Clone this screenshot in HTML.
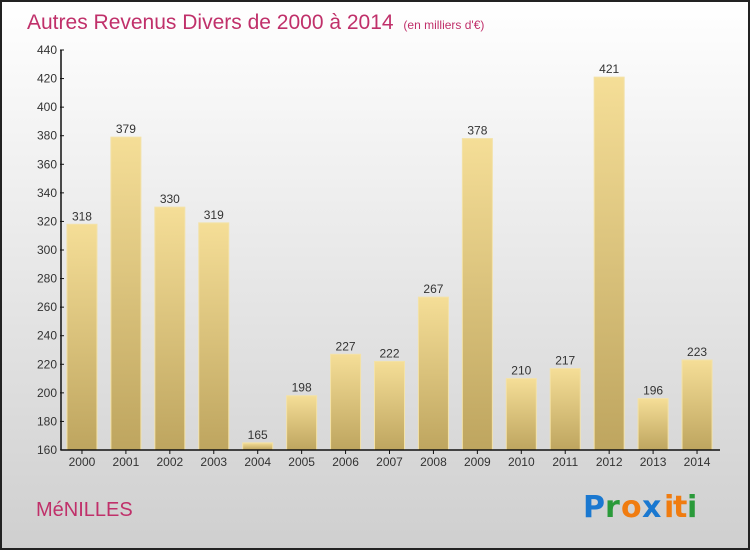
<!DOCTYPE html>
<html><head><meta charset="utf-8"><style>
body{margin:0;width:750px;height:550px;overflow:hidden;font-family:"Liberation Sans",sans-serif}
</style></head><body>
<svg id="c" width="750" height="550" xmlns="http://www.w3.org/2000/svg">
<defs>
<linearGradient id="bg" x1="0" y1="0" x2="0" y2="1"><stop offset="0" stop-color="#ffffff"/><stop offset="1" stop-color="#cfcfcf"/></linearGradient>
<linearGradient id="bar" x1="0" y1="0" x2="0" y2="1"><stop offset="0" stop-color="#f5de97"/><stop offset="1" stop-color="#bea55f"/></linearGradient>
</defs>
<rect x="1" y="1" width="748" height="548" fill="url(#bg)" stroke="#222" stroke-width="2"/>
<text x="27" y="29" font-size="21" fill="#c0306a">Autres Revenus Divers de 2000 à 2014 <tspan font-size="12" dx="4">(en milliers d'€)</tspan></text>
<text x="36" y="516" font-size="20" fill="#c0306a">MéNILLES</text>
<g font-size="30" font-family="'DejaVu Sans',sans-serif" font-weight="bold">
<text x="583" y="517" fill="#1a78d0">P</text><text x="605" y="517" fill="#2a9a3a">r</text><text x="621" y="517" fill="#f07c10">o</text><text x="642" y="517" fill="#1a78d0">x</text><text x="664" y="517" fill="#f07c10">i</text><text x="673" y="517" fill="#f07c10">t</text><text x="687" y="517" fill="#2a9a3a">i</text>
</g>
<g id="plot"></g>
</svg>
<script>
const categories=["2000","2001","2002","2003","2004","2005","2006","2007","2008","2009","2010","2011","2012","2013","2014"];
const values=[318,379,330,319,165,198,227,222,267,378,210,217,421,196,223];
const yTicks=[160,180,200,220,240,260,280,300,320,340,360,380,400,420,440];
const NS="http://www.w3.org/2000/svg";
const g=document.getElementById('plot');
const x0=61,x1=720,yTop=50,yBot=450,ymin=160,ymax=440;
const y=v=>yBot-(v-ymin)/(ymax-ymin)*(yBot-yTop);
const step=(x1-x0)/categories.length;
const xc=i=>x0+step*(i+0.5)-1;
function el(t,a,p){const e=document.createElementNS(NS,t);for(const k in a)e.setAttribute(k,a[k]);(p||g).appendChild(e);return e;}
categories.forEach((c,i)=>{
 const v=values[i];
 const r=el('rect',{x:xc(i)-15,y:y(v),width:30,height:yBot-y(v),fill:'url(#bar)',stroke:'#f3e2a8','stroke-width':1});
 
 
 const t=el('text',{x:xc(i),y:y(v)-4,'text-anchor':'middle','font-size':12,fill:'#333'});t.textContent=v;
 
 
 const tk=el('line',{x1:xc(i),x2:xc(i),y1:yBot,y2:yBot+4,stroke:'#111'});
 
 
 const l=el('text',{x:xc(i),y:yBot+16,'text-anchor':'middle','font-size':12,fill:'#333'});l.textContent=c;
 
 
});
yTicks.forEach(v=>{
 const tk=el('line',{x1:x0-1,x2:x0+3,y1:y(v),y2:y(v),stroke:'#111'});
 
 
 const l=el('text',{x:x0-4,y:y(v)+4,'text-anchor':'end','font-size':12,fill:'#333'});l.textContent=v;
 
 
});
const ya=el('line',{x1:x0,x2:x0,y1:yTop,y2:yBot,stroke:'#111','stroke-width':1.5});


const xa=el('line',{x1:x0,x2:x1,y1:yBot,y2:yBot,stroke:'#111','stroke-width':1.5});


</script>
</body></html>
